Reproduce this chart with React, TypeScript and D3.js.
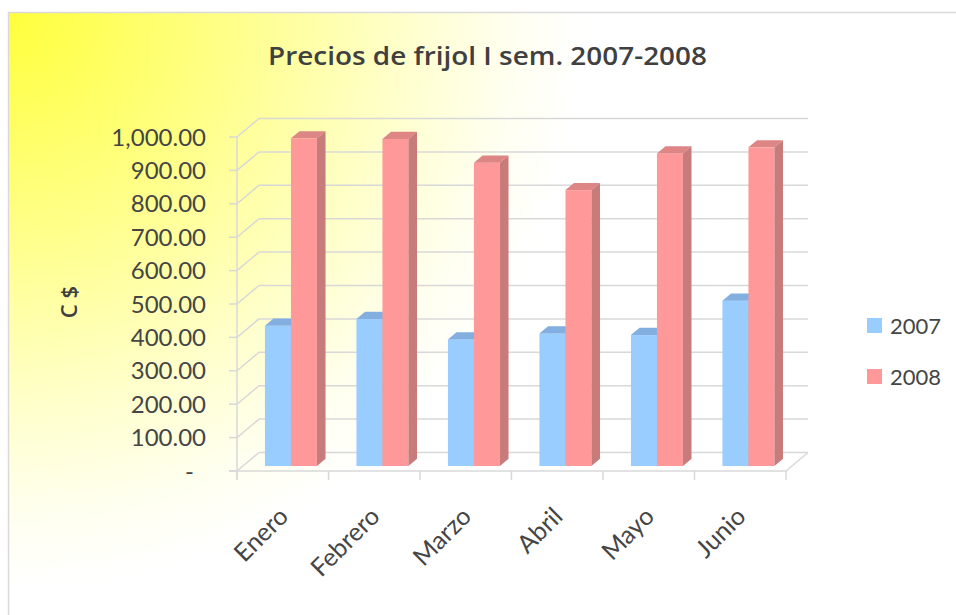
import React from "react";
import * as d3 from "d3";

const categories = ["Enero", "Febrero", "Marzo", "Abril", "Mayo", "Junio"];
const seriesNames = ["2007", "2008"];
const values2007 = [420, 440, 379, 397, 392, 495];
const values2008 = [981, 979, 908, 826, 936, 954];
const yTicks = [0, 100, 200, 300, 400, 500, 600, 700, 800, 900, 1000];
const titleText = "Precios de frijol I sem. 2007-2008";
const yTitle = "C $";

const seriesValues = [values2007, values2008];
const faceColors = [
  { front: "#99CCFF", top: "#82AEE0", side: "#7A9FCC" },
  { front: "#FF9999", top: "#DE8686", side: "#C77B7B" },
];

const FONT = "Lato, 'Open Sans', sans-serif";
const TFONT = "'Open Sans', Lato, sans-serif";

export default function App() {
  const W = 956;
  const H = 615;
  const x0 = 237;
  const x1 = 786;
  const yFront = d3.scaleLinear().domain([0, 1000]).range([471, 137]);
  const depthX = 22;
  const depthY = -18.5;
  const barF0 = 0.27;
  const barF1 = 0.66;

  const xBand = d3.scaleBand<string>().domain(categories).range([x0, x1]).paddingInner(0).paddingOuter(0);
  const xSub = d3.scaleBand<string>().domain(seriesNames).range([0, 52]);

  const shift = (f: number) => ({ dx: depthX * f, dy: depthY * f });
  const back = shift(1);
  const bf = shift(barF0);
  const bb = shift(barF1);

  const fmt = d3.format(",.2f");

  const gridColor = "#D8D8D8";

  const bars: React.ReactNode[] = [];
  categories.forEach((c, ci) => {
    seriesNames.forEach((s, si) => {
      const v = seriesValues[si][ci];
      const left = (xBand(c) as number) + 22 + bf.dx + (xSub(s) as number);
      const right = left + xSub.bandwidth();
      const bottom = yFront(0) + bf.dy;
      const top = yFront(v) + bf.dy;
      const ddx = bb.dx - bf.dx;
      const ddy = bb.dy - bf.dy;
      const col = faceColors[si];
      bars.push(
        <g key={c + s}>
          <rect x={left} y={top} width={right - left} height={bottom - top} fill={col.front} />
          <path
            d={`M${left},${top} L${left + ddx},${top + ddy} L${right + ddx},${top + ddy} L${right},${top} Z`}
            fill={col.top}
          />
          <path
            d={`M${right},${top} L${right + ddx},${top + ddy} L${right + ddx},${bottom + ddy} L${right},${bottom} Z`}
            fill={col.side}
          />
        </g>
      );
    });
  });

  return (
    <svg width={W} height={H} style={{ position: "absolute", left: 0, top: 0 }}>
      <defs>
        <radialGradient id="bg" gradientUnits="userSpaceOnUse" cx={8} cy={13} r={720}>
          <stop offset="0" stopColor="#FFFF3C" />
          <stop offset="0.3" stopColor="#FFFF88" />
          <stop offset="0.55" stopColor="#FFFFCC" />
          <stop offset="0.7" stopColor="#FFFFF0" />
          <stop offset="0.8" stopColor="#FFFFFF" />
          <stop offset="1" stopColor="#FFFFFF" />
        </radialGradient>
      </defs>
      <rect x={0} y={0} width={W} height={H} fill="#FFFFFF" />
      <rect x={8.5} y={12.5} width={1100} height={800} fill="url(#bg)" stroke="#D9D9D9" strokeWidth={1.5} />

      {yTicks.map((t) => (
        <g key={"g" + t}>
          <line
            x1={x0 + back.dx}
            x2={x1 + back.dx}
            y1={yFront(t) + back.dy}
            y2={yFront(t) + back.dy}
            stroke={gridColor}
            strokeWidth={1.5}
          />
          <line
            x1={x0}
            y1={yFront(t)}
            x2={x0 + back.dx}
            y2={yFront(t) + back.dy}
            stroke={gridColor}
            strokeWidth={1.5}
          />
          <line x1={x0 - 8} x2={x0} y1={yFront(t)} y2={yFront(t)} stroke={gridColor} strokeWidth={1.5} />
        </g>
      ))}
      <line x1={x0} x2={x0} y1={yFront(1000)} y2={yFront(0) + 8} stroke={gridColor} strokeWidth={1.5} />
      <line x1={x0 - 8} x2={x1} y1={yFront(0)} y2={yFront(0)} stroke={gridColor} strokeWidth={1.5} />
      <line
        x1={x1}
        y1={yFront(0)}
        x2={x1 + back.dx}
        y2={yFront(0) + back.dy}
        stroke={gridColor}
        strokeWidth={1.5}
      />
      {categories.concat(["_end"]).map((c, i) => {
        const x = i < categories.length ? (xBand(c) as number) : x1;
        return (
          <line key={"t" + c} x1={x} x2={x} y1={yFront(0)} y2={yFront(0) + 9} stroke={gridColor} strokeWidth={1.5} />
        );
      })}

      {bars}

      {yTicks.map((t) => (
        <text
          key={"l" + t}
          x={t === 0 ? 194 : 206}
          y={yFront(t)}
          dy="0.36em"
          textAnchor="end"
          fontFamily={FONT}
          fontSize={24}
          fill="#454545"
        >
          {t === 0 ? "-" : fmt(t)}
        </text>
      ))}

      {categories.map((c) => {
        const cx = (xBand(c) as number) + xBand.bandwidth() / 2 + 7;
        const cy = 518;
        return (
          <text
            key={"x" + c}
            transform={`translate(${cx},${cy}) rotate(-45)`}
            textAnchor="end"
            fontFamily={FONT}
            fontSize={25}
            fill="#454545"
          >
            {c}
          </text>
        );
      })}

      <text
        x={487.5}
        y={65}
        textAnchor="middle"
        fontFamily={TFONT}
        fontWeight={600}
        fontSize={25}
        textLength={439}
        lengthAdjust="spacingAndGlyphs"
        fill="#404040"
      >
        {titleText}
      </text>

      <text
        transform={`translate(77,302) rotate(-90)`}
        textAnchor="middle"
        fontFamily={TFONT}
        fontWeight={600}
        fontSize={22}
        fill="#404040"
      >
        {yTitle}
      </text>

      {seriesNames.map((s, i) => (
        <g key={"lg" + s}>
          <rect x={867} y={318 + i * 51} width={15} height={15} fill={faceColors[i].front} />
          <text x={890} y={334 + i * 51} fontFamily={FONT} fontSize={22} fill="#454545">
            {s}
          </text>
        </g>
      ))}
    </svg>
  );
}
